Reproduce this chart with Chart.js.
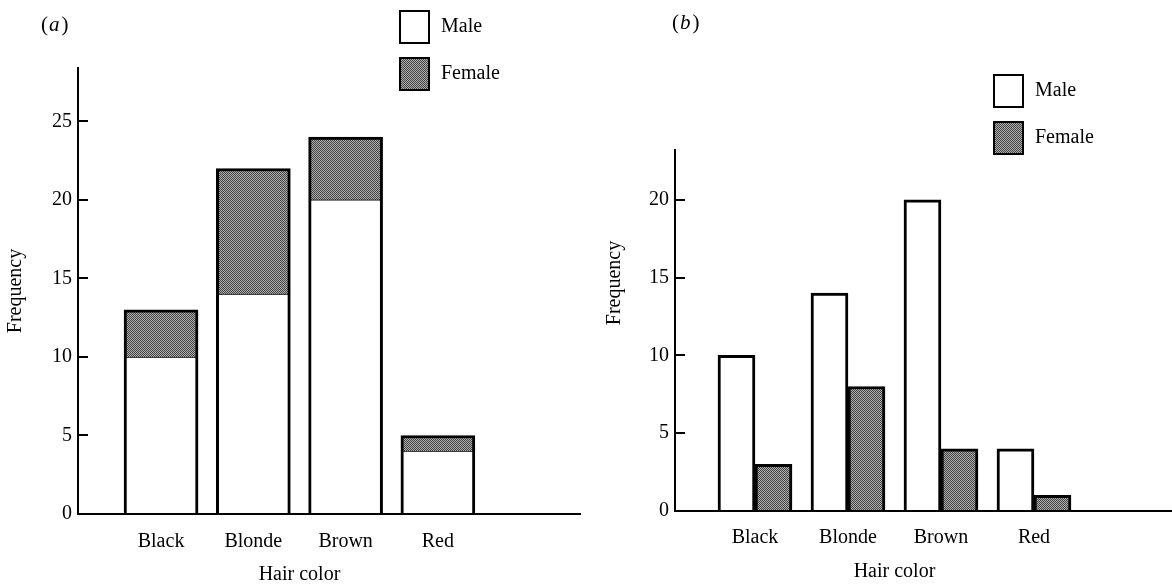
<!DOCTYPE html>
<html lang="en">
<head>
<meta charset="UTF-8">
<title>Hair color by sex</title>
<style>
  body { margin: 0; background: #fff; }
  .panel { position: absolute; top: 0; }
  #panelA { left: 0; }
  #panelB { left: 586px; }
</style>
</head>
<body>
<canvas id="panelA" class="panel" width="586" height="587"></canvas>
<canvas id="panelB" class="panel" width="586" height="587"></canvas>
<script src="https://cdn.jsdelivr.net/npm/chart.js"></script>
<script>
// counts per hair colour
const hairColors = ['Black', 'Blonde', 'Brown', 'Red'];
const maleCounts = [10, 14, 20, 4];
const femaleCounts = [3, 8, 4, 1];
const seriesNames = ['Male', 'Female'];
const yStep = 5;
const xTitle = 'Hair color';
const yTitle = 'Frequency';

Chart.defaults.font.family = '"Liberation Serif", "Times New Roman", serif';
Chart.defaults.font.size = 20;
Chart.defaults.color = '#000';

// grey halftone fill used for the female bars
function halftone(ctx) {
    const c = document.createElement('canvas');
    c.width = 4; c.height = 4;
    const g = c.getContext('2d');
    g.fillStyle = '#b0b0b0';
    g.fillRect(0, 0, 4, 4);
    g.fillStyle = '#424242';
    for (let y = 0; y < 4; y++) {
        for (let x = 0; x < 4; x++) {
            if ((x + y) % 2 === 0) g.fillRect(x, y, 1, 1);
        }
    }
    return ctx.createPattern(c, 'repeat');
}

const toPoints = arr => arr.map((v, i) => ({ x: i, y: v }));

// panel letter, axis titles and the boxed legend
const panelText = {
    id: 'panelText',
    afterDraw(chart, args, opts) {
        const ctx = chart.ctx;
        const xs = chart.scales.x;
        ctx.save();
        ctx.fillStyle = '#000';
        ctx.textBaseline = 'middle';

        // upright brackets round an italic letter
        ctx.textAlign = 'left';
        let tx = opts.tagX;
        ctx.font = '21px "Liberation Serif"';
        ctx.fillText('(', tx, opts.tagY);
        tx += ctx.measureText('(').width + 1;
        ctx.font = 'italic 21px "Liberation Serif"';
        ctx.fillText(opts.tag, tx, opts.tagY);
        tx += ctx.measureText(opts.tag).width + 2;
        ctx.font = '21px "Liberation Serif"';
        ctx.fillText(')', tx, opts.tagY);

        ctx.font = '20px "Liberation Serif"';
        ctx.textAlign = 'center';
        ctx.fillText(xTitle, xs.getPixelForValue((hairColors.length - 1) / 2), opts.xTitleY);

        ctx.save();
        ctx.translate(opts.yTitleX, opts.yTitleY);
        ctx.rotate(-Math.PI / 2);
        ctx.fillText(yTitle, 0, 0);
        ctx.restore();

        ctx.textAlign = 'left';
        chart.data.datasets.forEach((ds, i) => {
            const bx = opts.legendX;
            const by = opts.legendY + i * 47;
            ctx.fillStyle = ds.backgroundColor;
            ctx.fillRect(bx, by, 29, 32);
            ctx.strokeStyle = '#000';
            ctx.lineWidth = 2;
            ctx.strokeRect(bx, by, 29, 32);
            ctx.fillStyle = '#000';
            ctx.fillText(ds.label, bx + 41, by + 16);
        });
        ctx.restore();
    }
};

function scales(xMin, xMax, yMax, stacked, yWidth, xHeight, xPad) {
    return {
        x: {
            type: 'linear',
            min: xMin,
            max: xMax,
            offset: false,
            stacked: stacked,
            grid: { display: false, drawTicks: false, offset: false },
            border: { display: true, color: '#000', width: 2 },
            ticks: {
                stepSize: 1,
                includeBounds: false,
                autoSkip: false,
                maxRotation: 0,
                padding: xPad,
                callback: v => hairColors[v] ?? ''
            },
            afterFit: s => { s.height = xHeight; }
        },
        y: {
            min: 0,
            max: yMax,
            stacked: stacked,
            grid: {
                drawOnChartArea: false,
                drawTicks: true,
                tickLength: -10,
                lineWidth: 2,
                color: '#000'
            },
            border: { display: true, color: '#000', width: 2 },
            ticks: { stepSize: yStep, includeBounds: false, padding: 16 },
            afterFit: s => { s.width = yWidth; }
        }
    };
}

const baseOptions = {
    responsive: false,
    animation: false,
    devicePixelRatio: 1,
    events: []
};

// (a) stacked bars
const ctxA = document.getElementById('panelA').getContext('2d');
new Chart(ctxA, {
    type: 'bar',
    data: {
        datasets: [
            {
                label: seriesNames[0],
                data: toPoints(maleCounts),
                backgroundColor: '#ffffff',
                borderColor: '#000',
                borderWidth: { left: 3, right: 3, top: 1, bottom: 0 },
                borderSkipped: false,
                barThickness: 74
            },
            {
                label: seriesNames[1],
                data: toPoints(femaleCounts),
                backgroundColor: halftone(ctxA),
                borderColor: '#000',
                borderWidth: { left: 3, right: 3, top: 3, bottom: 0 },
                borderSkipped: false,
                barThickness: 74
            }
        ]
    },
    options: {
        ...baseOptions,
        layout: { padding: { top: 68, right: 6, left: 0, bottom: 0 } },
        scales: scales(-0.9, 4.54, 28.4, true, 78, 73, 16),
        plugins: {
            legend: { display: false },
            tooltip: { enabled: false },
            panelText: {
                tag: 'a', tagX: 41, tagY: 25,
                xTitleY: 575, yTitleX: 16, yTitleY: 291,
                legendX: 400, legendY: 11
            }
        }
    },
    plugins: [panelText]
});

// (b) side-by-side bars
const ctxB = document.getElementById('panelB').getContext('2d');
new Chart(ctxB, {
    type: 'bar',
    data: {
        datasets: [
            {
                label: seriesNames[0],
                data: toPoints(maleCounts),
                backgroundColor: '#ffffff',
                borderColor: '#000',
                borderWidth: 3,
                barThickness: 37
            },
            {
                label: seriesNames[1],
                data: toPoints(femaleCounts),
                backgroundColor: halftone(ctxB),
                borderColor: '#000',
                borderWidth: 3,
                barThickness: 37
            }
        ]
    },
    options: {
        ...baseOptions,
        layout: { padding: { top: 150, right: 0, left: 0, bottom: 0 } },
        scales: scales(-0.86, 4.484, 23.2, false, 89, 76, 15),
        plugins: {
            legend: { display: false },
            tooltip: { enabled: false },
            panelText: {
                tag: 'b', tagX: 86, tagY: 23,
                xTitleY: 572, yTitleX: 29, yTitleY: 283,
                legendX: 408, legendY: 75
            }
        }
    },
    plugins: [panelText]
});
</script>
</body>
</html>
